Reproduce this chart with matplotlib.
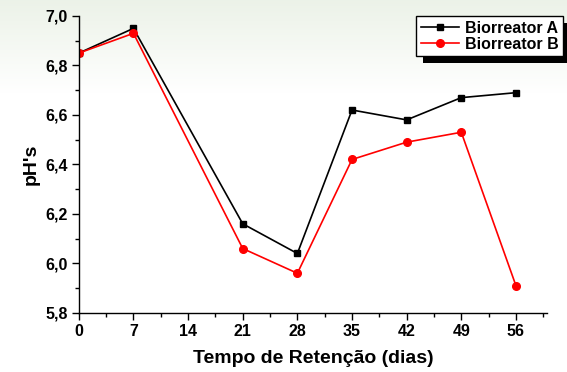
import numpy as np
import matplotlib.pyplot as plt
from matplotlib.ticker import MultipleLocator, FuncFormatter
import matplotlib.patheffects as pe

plt.rcParams['font.family'] = ['Liberation Sans', 'DejaVu Sans']
plt.rcParams['font.weight'] = 'bold'

# dados
dias = [0, 7, 21, 28, 35, 42, 49, 56]
ph_a = [6.85, 6.95, 6.16, 6.04, 6.62, 6.58, 6.67, 6.69]
ph_b = [6.85, 6.93, 6.06, 5.96, 6.42, 6.49, 6.53, 5.91]
xticks = [0, 7, 14, 21, 28, 35, 42, 49, 56]

fig = plt.figure(figsize=(5.67, 3.72), dpi=100)

# fundo levemente esverdeado no topo
bg = fig.add_axes([0, 0, 1, 1], zorder=-10)
grad = np.linspace(0, 1, 372)[:, None]
fade = np.clip(grad / 0.25, 0, 1)
top = np.array([0.925, 0.95, 0.91])
img = top[None, None, :] * (1 - fade[:, :, None]) + np.ones(3)[None, None, :] * fade[:, :, None]
bg.imshow(img, aspect='auto', extent=[0, 1, 0, 1], origin='upper')
bg.axis('off')

ax = fig.add_axes([0.139, 0.159, 0.826, 0.798])
ax.patch.set_alpha(0)
ax.plot(dias, ph_a, '-', color='black', lw=1.2, marker='s', ms=5, label='Biorreator A')
ax.plot(dias, ph_b, '-', color='red', lw=1.2, marker='o', ms=5.5, label='Biorreator B')

ax.set_xlim(0, 60)
ax.set_ylim(5.8, 7.0)
ax.set_xticks(xticks)
ax.xaxis.set_minor_locator(MultipleLocator(3.5))
ax.yaxis.set_major_locator(MultipleLocator(0.2))
ax.yaxis.set_minor_locator(MultipleLocator(0.1))
ax.yaxis.set_major_formatter(FuncFormatter(lambda v, p: f'{v:.1f}'.replace('.', ',')))
ax.tick_params(which='major', length=5, width=1, labelsize=11.5, pad=3)
ax.tick_params(which='minor', length=3, width=1)
for s in ['top', 'right']:
    ax.spines[s].set_visible(False)
for s in ['left', 'bottom']:
    ax.spines[s].set_linewidth(1)
for lab in ax.get_xticklabels() + ax.get_yticklabels():
    lab.set_fontweight('bold')

ax.set_xlabel('Tempo de Retenção (dias)', fontsize=14, fontweight='bold', labelpad=8)
ax.set_ylabel("pH's", fontsize=14, fontweight='bold', labelpad=4)

leg = ax.legend(loc='upper right', bbox_to_anchor=(1.034, 1.0),
                frameon=True, fancybox=False, shadow=False, borderpad=0.3,
                framealpha=1, handlelength=2.4, handletextpad=0.35, labelspacing=0.05,
                borderaxespad=0, prop={'weight': 'bold', 'size': 11.5})
leg.get_frame().set_edgecolor('black')
leg.get_frame().set_facecolor('white')
leg.get_frame().set_linewidth(1)
leg.get_frame().set_path_effects([pe.SimplePatchShadow(offset=(5, -5), shadow_rgbFace='black', alpha=1), pe.Normal()])

fig.savefig('out.png', dpi=100)
